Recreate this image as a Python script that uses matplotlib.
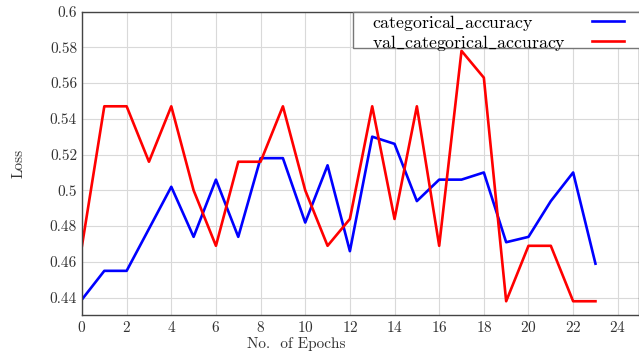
import matplotlib
matplotlib.use("Agg")
import matplotlib.pyplot as plt
from matplotlib.patches import Rectangle
from matplotlib.ticker import MultipleLocator, FuncFormatter

epochs = list(range(24))
cat_acc = [0.439, 0.455, 0.455, 0.4785, 0.502, 0.474, 0.506, 0.474,
           0.518, 0.518, 0.482, 0.514, 0.466, 0.530, 0.526, 0.494,
           0.506, 0.506, 0.510, 0.471, 0.474, 0.494, 0.510, 0.459]
val_cat_acc = [0.469, 0.547, 0.547, 0.516, 0.547, 0.500, 0.469, 0.516,
               0.516, 0.547, 0.500, 0.469, 0.484, 0.547, 0.484, 0.547,
               0.469, 0.578, 0.563, 0.438, 0.469, 0.469, 0.438, 0.438]

plt.rcParams['mathtext.fontset'] = 'cm'
plt.rcParams['font.family'] = ['cmr10', 'DejaVu Serif']
plt.rcParams['axes.formatter.use_mathtext'] = True

fig = plt.figure(figsize=(6.39, 3.53), dpi=100)
ax = fig.add_axes([0.1283, 0.1076, 0.8717, 0.8598])

ax.plot(epochs, cat_acc, color='#0000ff', lw=1.9,
        label=r'categorical$\_$accuracy')
ax.plot(epochs, val_cat_acc, color='#ff0000', lw=1.9,
        label=r'val$\_$categorical$\_$accuracy')

ax.set_xlim(0, 24.95)
ax.set_ylim(0.4303, 0.6)
ax.xaxis.set_major_locator(MultipleLocator(2))
ax.yaxis.set_major_locator(MultipleLocator(0.02))
ax.yaxis.set_major_formatter(FuncFormatter(lambda v, p: '{:g}'.format(round(v, 4))))
ax.grid(True, color='#d9d9d9', lw=0.8)
ax.tick_params(direction='in', length=0, labelsize=11, colors='#333333')
for s in ax.spines.values():
    s.set_color('#444444')
    s.set_linewidth(1.0)

ax.set_xlabel('No.  of Epochs', fontsize=11, color='#333333')
ax.xaxis.set_label_coords(0.384, -0.072)
ax.set_ylabel('Loss', fontsize=11, color='#333333')
ax.yaxis.set_label_coords(-0.102, 0.5)

# legend frame (runs past the right edge like the original)
frame = Rectangle((0.4865, 0.88), 0.6, 0.12, transform=ax.transAxes,
                  facecolor='white', edgecolor='#777777', lw=1.0,
                  clip_on=False, zorder=4)
ax.add_patch(frame)

leg = ax.legend(loc='upper left', bbox_to_anchor=(0.5206, 0.996), markerfirst=False,
                frameon=False, fontsize=12.8, borderpad=0, borderaxespad=0,
                handlelength=1.8, labelspacing=0.0, handletextpad=1.46)
leg.set_zorder(5)

# left-align the labels: widen the gap after the shorter one
fig.canvas.draw()
widths = [t.get_window_extent().width for t in leg.get_texts()]
wmax = max(widths)
dpicor = fig.dpi / 72.0
rows = [r for col in leg._legend_handle_box.get_children() for r in col.get_children()]
for row, w in zip(rows, widths):
    row.sep += (wmax - w) / dpicor

fig.savefig('out.png', dpi=100)
